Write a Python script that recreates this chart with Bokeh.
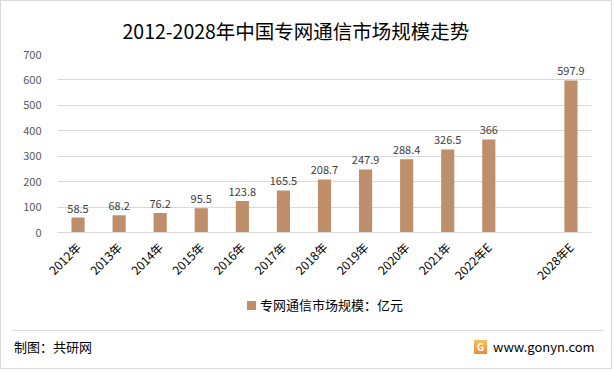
from bokeh.plotting import figure
from bokeh.layouts import column
from bokeh.core.properties import value
from bokeh.models import (ColumnDataSource, FactorRange, LabelSet, FixedTicker, Title, Div)
from bokeh.embed import file_html
from bokeh.resources import INLINE

title_text = "2012-2028年中国专网通信市场规模走势"
years = ["2012年", "2013年", "2014年", "2015年", "2016年", "2017年", "2018年",
         "2019年", "2020年", "2021年", "2022年E", "2028年E"]
values = [58.5, 68.2, 76.2, 95.5, 123.8, 165.5, 208.7, 247.9, 288.4, 326.5, 366, 597.9]
series_name = "专网通信市场规模：亿元"
y_ticks = [0, 100, 200, 300, 400, 500, 600, 700]
source_text = "制图：共研网"
site_text = "www.gonyn.com"

FONT = "Noto Sans CJK SC"
BAR = "#BF8E6B"
GRID = "#D9D9D9"

factors = years[:-1] + [" "] + years[-1:]
src = ColumnDataSource(dict(x=years, y=values, lab=[f"{v:g}" for v in values]))

W = 610
p = figure(width=W, height=290, x_range=FactorRange(*factors), y_range=(0, 700),
           output_backend="svg", toolbar_location=None,
           min_border_left=56, min_border_right=20, min_border_top=53, min_border_bottom=56)
p.outline_line_color = None
p.border_fill_color = "white"

p.title = Title(text=title_text, align="left", offset=65, text_font=FONT,
                text_font_size="19.5px", text_font_style="normal", text_color="#000000",
                standoff=20)

p.vbar(x="x", top="y", width=0.32, source=src, fill_color=BAR, line_color=None)

p.add_layout(LabelSet(x="x", y="y", text="lab", source=src, y_offset=5,
                      text_align="center", text_baseline="bottom",
                      text_font_size="11px", text_color="#404040", text_font=value(FONT)))

p.xgrid.grid_line_color = None
p.ygrid.grid_line_color = GRID
p.yaxis.ticker = FixedTicker(ticks=y_ticks)
p.yaxis.axis_line_color = None
p.yaxis.major_tick_line_color = None
p.yaxis.minor_tick_line_color = None
p.yaxis.major_label_text_font = FONT
p.yaxis.major_label_text_font_size = "11px"
p.yaxis.major_label_text_color = "#595959"
p.yaxis.major_label_standoff = 10

p.xaxis.axis_line_color = GRID
p.xaxis.major_tick_line_color = None
p.xaxis.minor_tick_line_color = None
p.xaxis.major_label_orientation = 0.785398
p.xaxis.major_label_text_font = FONT
p.xaxis.major_label_text_font_size = "12px"
p.xaxis.major_label_text_color = "#000000"
p.xaxis.major_label_standoff = 6

FH = 77
footer_html = f"""
<div style="position:relative;width:{W}px;height:{FH}px;background:white;
            font-family:'{FONT}';font-size:13px;color:#000;">
  <div style="position:absolute;left:246px;top:10px;width:9px;height:9px;background:{BAR};"></div>
  <div style="position:absolute;left:259px;top:5px;line-height:18px;">{series_name}</div>
  <div style="position:absolute;left:11px;top:39px;width:591px;height:0;
              border-top:1px solid {GRID};"></div>
  <div style="position:absolute;left:13px;top:47px;line-height:18px;">{source_text}</div>
  <div style="position:absolute;left:473px;top:49px;width:13px;height:14px;
              background:linear-gradient(#F7C15A,#EE8A3C);color:white;font-size:10px;
              font-weight:bold;line-height:14px;text-align:center;">G</div>
  <div style="position:absolute;left:492px;top:47px;line-height:18px;">{site_text}</div>
</div>
"""
footer = Div(text=footer_html, width=W, height=FH, margin=0)

layout = column(p, footer, spacing=0, styles={"border": "1px solid #D9D9D9"})

open("out.html", "w").write(file_html(layout, INLINE))
